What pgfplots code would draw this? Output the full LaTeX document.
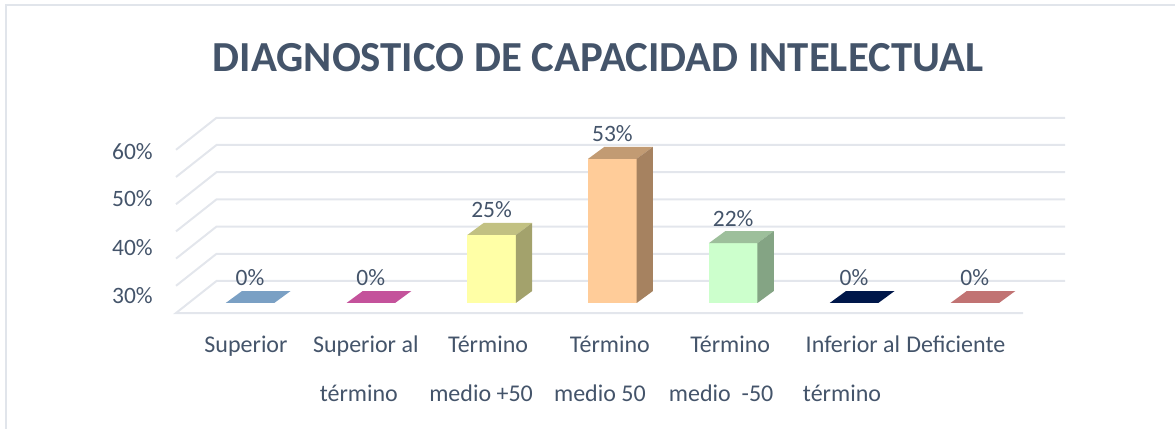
\documentclass[border=0pt]{standalone}
\usepackage{pgfplots}
\pgfplotsset{compat=1.18}
\usepackage{fontspec}
\setmainfont{Carlito}
\newlength\px
\setlength\px{0.75pt}
\definecolor{txt}{HTML}{44546A}
\definecolor{gridc}{HTML}{E3E6EC}
\definecolor{framec}{HTML}{E1E5EB}
\definecolor{bluetop}{HTML}{7AA0C4}
\definecolor{pinktop}{HTML}{C4529B}
\definecolor{yelfront}{HTML}{FFFFA6}
\definecolor{yeltop}{HTML}{C2C182}
\definecolor{yelside}{HTML}{A3A26C}
\definecolor{orafront}{HTML}{FFCC99}
\definecolor{oratop}{HTML}{C29B73}
\definecolor{oraside}{HTML}{A68260}
\definecolor{grnfront}{HTML}{CCFFCC}
\definecolor{grntop}{HTML}{9DBF9B}
\definecolor{grnside}{HTML}{84A484}
\definecolor{navytop}{HTML}{00174A}
\definecolor{redtop}{HTML}{C17373}
% one line of a tick label, moved sideways by half of #1
\newcommand\lbl[2]{\makebox[0pt]{\hspace{#1\px}\vphantom{fl}#2}}
\begin{document}
\begin{tikzpicture}
\useasboundingbox (0,0) rectangle (1175\px,-429\px);
\draw[framec,line width=2\px] (6\px,-429\px) -- (6\px,-5\px) -- (1175\px,-5\px);
\begin{axis}[
  at={(176\px,-313\px)}, anchor=south west,
  scale only axis, width=889\px, height=195\px,
  xmin=-0.6126, xmax=6.7467, ymin=-3.68, ymax=68.01,
  clip=false,
  axis line style={draw=none},
  major tick length=0pt,
  /pgf/number format/assume math mode=true,
  title={DIAGNOSTICO DE CAPACIDAD INTELECTUAL},
  title style={at={(rel axis cs:0.4747,1)}, anchor=base, yshift=38\px, inner sep=0pt,
    font=\fontsize{32.1pt}{36pt}\selectfont\bfseries, text=txt},
  ytick={2.9,20.5,38.2,55.8},
  yticklabels={30\%,40\%,50\%,60\%},
  yticklabel style={anchor=east, inner sep=0pt, xshift=-23\px, text=txt,
    font=\fontsize{17.6pt}{20pt}\selectfont},
  xtick={0,1,2,3,4,5,6},
  xticklabels={
    {\lbl{-8}{Superior}},
    {\lbl{-10}{Superior al}\\\lbl{-24}{término}},
    {\lbl{-7}{Término}\\\lbl{-21}{medio +50}},
    {\lbl{-5}{Término}\\\lbl{-25}{medio 50}},
    {\lbl{-6}{Término}\\\lbl{-24}{medio \ -50}},
    {\lbl{-2}{Inferior al}\\\lbl{-24}{término}},
    {\lbl{-38}{Deficiente}}},
  xticklabel style={anchor=north, align=center, inner sep=0pt, yshift=-23\px, text=txt,
    font=\fontsize{18pt}{36.75pt}\selectfont},
]
% walls and floor
\addplot[gridc,line width=2\px] coordinates {(-0.6126,56.32) (-0.2773,68.09) (6.7467,68.09)};
\addplot[gridc,line width=2\px] coordinates {(-0.6126,46.32) (-0.2773,58.09) (6.7467,58.09)};
\addplot[gridc,line width=2\px] coordinates {(-0.6126,36.32) (-0.2773,48.09) (6.7467,48.09)};
\addplot[gridc,line width=2\px] coordinates {(-0.6126,26.32) (-0.2773,38.09) (6.7467,38.09)};
\addplot[gridc,line width=2\px] coordinates {(-0.6126,16.32) (-0.2773,28.09) (6.7467,28.09)};
\addplot[gridc,line width=2\px] coordinates {(-0.6126,6.32) (-0.2773,18.09) (6.7467,18.09)};
\addplot[gridc,line width=2\px] coordinates {(6.7467,8.09) (-0.2773,8.09) (-0.6126,-3.68) (6.399,-3.68)};
% flat bars (0%)
\addplot[fill=bluetop,draw=none] coordinates {(-0.201,0) (0.201,0) (0.336,4.41) (-0.066,4.41) (-0.201,0)};
\addplot[fill=pinktop,draw=none] coordinates {(0.799,0) (1.201,0) (1.336,4.41) (0.934,4.41) (0.799,0)};
\addplot[fill=navytop,draw=none] coordinates {(4.799,0) (5.201,0) (5.336,4.41) (4.934,4.41) (4.799,0)};
\addplot[fill=redtop,draw=none] coordinates {(5.799,0) (6.201,0) (6.336,4.41) (5.934,4.41) (5.799,0)};
% Termino medio +50
\addplot[ybar,bar width=48.6\px,fill=yelfront,draw=none] coordinates {(2,25)};
\addplot[fill=yeltop,draw=none] coordinates {(1.799,25) (2.201,25) (2.336,29.41) (1.934,29.41) (1.799,25)};
\addplot[fill=yelside,draw=none] coordinates {(2.201,0) (2.336,4.41) (2.336,29.41) (2.201,25) (2.201,0)};
% Termino medio 50
\addplot[ybar,bar width=48.6\px,fill=orafront,draw=none] coordinates {(3,53)};
\addplot[fill=oratop,draw=none] coordinates {(2.799,53) (3.201,53) (3.336,57.41) (2.934,57.41) (2.799,53)};
\addplot[fill=oraside,draw=none] coordinates {(3.201,0) (3.336,4.41) (3.336,57.41) (3.201,53) (3.201,0)};
% Termino medio -50
\addplot[ybar,bar width=48.6\px,fill=grnfront,draw=none] coordinates {(4,22)};
\addplot[fill=grntop,draw=none] coordinates {(3.799,22) (4.201,22) (4.336,26.41) (3.934,26.41) (3.799,22)};
\addplot[fill=grnside,draw=none] coordinates {(4.201,0) (4.336,4.41) (4.336,26.41) (4.201,22) (4.201,0)};
% value labels
\addplot[draw=none,nodes near coords={\pgfmathprintnumber{\pgfplotspointmeta}\%},
  nodes near coords style={anchor=center,yshift=25\px,inner sep=0pt,text=txt,
    font=\fontsize{17.6pt}{20pt}\selectfont}]
  coordinates {(0,0) (1,0) (2,25) (3,53) (4,22) (5,0) (6,0)};
\end{axis}
\end{tikzpicture}
\end{document}
